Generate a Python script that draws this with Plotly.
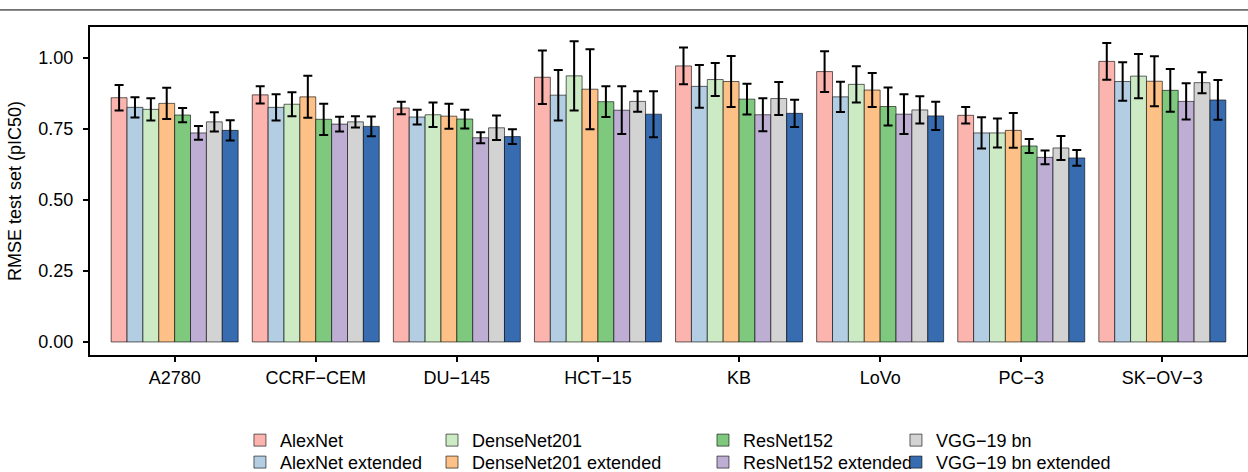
import plotly.graph_objects as go

cell_lines = ["A2780", "CCRF−CEM", "DU−145", "HCT−15", "KB", "LoVo", "PC−3", "SK−OV−3"]
models = ["AlexNet", "AlexNet extended", "DenseNet201", "DenseNet201 extended",
          "ResNet152", "ResNet152 extended", "VGG−19 bn", "VGG−19 bn extended"]
colors = ["#FBB4AE", "#B3CDE3", "#CCEBC5", "#FDC086",
          "#7FC97F", "#BEAED4", "#D3D3D3", "#386CB0"]

alexnet = [0.860, 0.870, 0.824, 0.932, 0.972, 0.952, 0.798, 0.988]
alexnet_ext = [0.826, 0.826, 0.792, 0.869, 0.900, 0.863, 0.736, 0.917]
densenet = [0.819, 0.837, 0.800, 0.937, 0.924, 0.907, 0.736, 0.936]
densenet_ext = [0.840, 0.863, 0.795, 0.890, 0.917, 0.887, 0.745, 0.918]
resnet = [0.799, 0.784, 0.785, 0.846, 0.855, 0.829, 0.690, 0.886]
resnet_ext = [0.736, 0.767, 0.719, 0.816, 0.800, 0.802, 0.650, 0.847]
vgg = [0.775, 0.775, 0.754, 0.847, 0.857, 0.817, 0.683, 0.913]
vgg_ext = [0.745, 0.759, 0.723, 0.802, 0.805, 0.796, 0.648, 0.852]

alexnet_err = [0.045, 0.030, 0.022, 0.094, 0.065, 0.072, 0.029, 0.065]
alexnet_ext_err = [0.036, 0.046, 0.026, 0.089, 0.075, 0.053, 0.055, 0.068]
densenet_err = [0.039, 0.042, 0.043, 0.122, 0.058, 0.064, 0.051, 0.078]
densenet_ext_err = [0.055, 0.074, 0.044, 0.141, 0.090, 0.060, 0.061, 0.088]
resnet_err = [0.025, 0.055, 0.033, 0.054, 0.054, 0.067, 0.025, 0.075]
resnet_ext_err = [0.024, 0.026, 0.019, 0.084, 0.058, 0.070, 0.024, 0.064]
vgg_err = [0.034, 0.020, 0.043, 0.036, 0.058, 0.048, 0.042, 0.037]
vgg_ext_err = [0.036, 0.035, 0.026, 0.081, 0.048, 0.050, 0.028, 0.070]

y_ticks = [0.00, 0.25, 0.50, 0.75, 1.00]
y_tick_labels = ["0.00", "0.25", "0.50", "0.75", "1.00"]

values = [alexnet, alexnet_ext, densenet, densenet_ext, resnet, resnet_ext, vgg, vgg_ext]
errors = [alexnet_err, alexnet_ext_err, densenet_err, densenet_ext_err,
          resnet_err, resnet_ext_err, vgg_err, vgg_ext_err]

FONT = "Liberation Sans, Arial, Helvetica, sans-serif"
legend_col_x = [0.1296, 0.2956, 0.5298, 0.6966]
legend_row_y = [-0.204, -0.271]

fig = go.Figure()
legend_layouts = {}
for i, (name, col, v, e) in enumerate(zip(models, colors, values, errors)):
    lname = "legend" if i == 0 else f"legend{i + 1}"
    fig.add_trace(go.Bar(
        x=cell_lines, y=v, name=name, showlegend=True,
        marker=dict(color=col, line=dict(color="rgba(0,0,0,0.6)", width=1)),
        error_y=dict(type="data", array=e, visible=True, color="black",
                     thickness=2, width=4.5),
        legend=lname,
    ))
    legend_layouts[lname] = dict(
        x=legend_col_x[i // 2], y=legend_row_y[i % 2],
        orientation="v", xanchor="left", yanchor="top",
        font=dict(family=FONT, size=18, color="black"),
        bgcolor="rgba(0,0,0,0)", borderwidth=0, visible=True,
    )

fig.update_layout(
    width=1248, height=472,
    showlegend=True,
    margin=dict(l=90, r=1, t=27, b=117, autoexpand=False),
    paper_bgcolor="white", plot_bgcolor="white",
    barmode="group", bargap=0.1, bargroupgap=0.0,
    font=dict(family=FONT, size=18, color="black"),
    xaxis=dict(
        type="category", range=[-0.6, len(cell_lines) - 0.4],
        showline=True, linecolor="black", linewidth=2, mirror=True,
        ticks="outside", ticklen=5, tickwidth=2, tickcolor="black",
        tickfont=dict(family=FONT, size=18, color="black"),
        showgrid=False, zeroline=False,
    ),
    yaxis=dict(
        range=[-0.046, 1.109],
        tickvals=y_ticks, ticktext=y_tick_labels,
        showline=True, linecolor="black", linewidth=2, mirror=True,
        ticks="outside", ticklen=5, tickwidth=2, tickcolor="black",
        ticklabelstandoff=6,
        tickfont=dict(family=FONT, size=18, color="black"),
        showgrid=False, zeroline=False,
        title=dict(text="RMSE test set (pIC50)", standoff=12,
                   font=dict(family=FONT, size=18, color="black")),
    ),
    shapes=[dict(type="line", xref="paper", yref="paper",
                 x0=-0.08, x1=1.01, y0=1.052, y1=1.052,
                 line=dict(color="black", width=1))],
    **legend_layouts,
)

fig.write_html(
    "out.html",
    config={"displayModeBar": False},
    post_script="document.body.style.margin='0';document.body.style.overflow='hidden';",
)
